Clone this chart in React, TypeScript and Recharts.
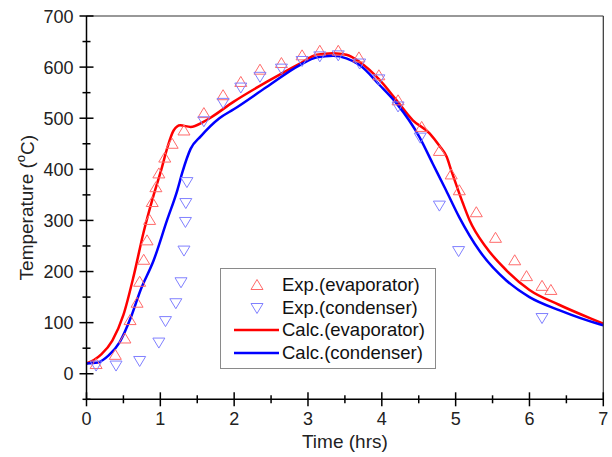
import React from "react"
import {
  ComposedChart,
  Line,
  Scatter,
  XAxis,
  YAxis,
} from "recharts"

const evapExpTime = [0.13, 0.39, 0.52, 0.59, 0.685, 0.72, 0.775, 0.82, 0.855, 0.89, 0.94, 0.98, 1.06, 1.16, 1.32, 1.59, 1.85, 2.09, 2.35, 2.64, 2.92, 3.16, 3.41, 3.69, 3.96, 4.22, 4.54, 4.78, 4.94, 5.05, 5.28, 5.54, 5.8, 5.96, 6.17, 6.29]
const evapExpTemp = [19, 37, 69, 105, 139, 180, 223, 261, 301, 336, 365, 392, 423, 450, 476, 510, 545, 571, 595, 608, 623, 632, 632, 619, 584, 535, 483, 436, 390, 359, 316, 266, 222, 191, 172, 164]

const condExpTime = [0.13, 0.4, 0.72, 0.98, 1.07, 1.21, 1.28, 1.32, 1.34, 1.345, 1.36, 1.59, 1.85, 2.09, 2.35, 2.64, 2.92, 3.16, 3.41, 3.7, 3.96, 4.22, 4.52, 4.78, 5.04, 6.17]
const condExpTemp = [16, 16, 25, 61, 103, 138, 179, 241, 297, 334, 375, 494, 530, 560, 581, 597, 612, 621, 623, 607, 576, 523, 462, 329, 240, 109]

// calculated curves
const evapCalcTime = [0, 0.1, 0.2, 0.35, 0.5, 0.64, 0.77, 0.91, 1.02, 1.09, 1.18, 1.27, 1.41, 1.585, 1.68, 1.99, 2.44, 2.89, 3.12, 3.34, 3.52, 3.7, 3.97, 4.2, 4.42, 4.65, 4.78, 4.88, 4.94, 5.01, 5.1, 5.19, 5.41, 5.69, 6.0, 6.4, 6.95, 7]
const evapCalcTemp = [20, 27, 38, 65, 115, 192, 275, 350, 403, 440, 476, 486, 483, 493, 501, 532, 571, 607, 624, 627, 624, 610, 575, 535, 496, 470, 446, 424, 398, 369, 333, 300, 248, 202, 164, 135, 101, 98]

const condCalcTime = [0, 0.15, 0.3, 0.45, 0.6, 0.73, 0.91, 1.09, 1.23, 1.3, 1.41, 1.55, 1.8, 2.0, 2.44, 2.89, 3.12, 3.34, 3.52, 3.7, 3.97, 4.2, 4.51, 4.69, 4.87, 5.05, 5.32, 5.69, 6.0, 6.41, 6.95, 7]
const condCalcTemp = [20, 22, 36, 62, 110, 163, 222, 300, 359, 395, 440, 465, 500, 518, 561, 604, 619, 622, 617, 604, 565, 529, 463, 411, 359, 306, 241, 182, 150, 124, 97, 95]

const xTicks = [0, 0.5, 1, 1.5, 2, 2.5, 3, 3.5, 4, 4.5, 5, 5.5, 6, 6.5, 7]
const yTicks = [-50, 0, 50, 100, 150, 200, 250, 300, 350, 400, 450, 500, 550, 600, 650, 700]

const zip = (t: number[], v: number[]) => t.map((x, i) => ({ t: x, v: v[i] }))

const evapExp = zip(evapExpTime, evapExpTemp)
const condExp = zip(condExpTime, condExpTemp)
const evapCalc = zip(evapCalcTime, evapCalcTemp)
const condCalc = zip(condCalcTime, condCalcTemp)

const FONT = "'Liberation Sans', Arial, sans-serif"
const RED = "#ff0000"
const BLUE = "#0000ff"
const RED_MK = "#ff6a6a"
const BLUE_MK = "#8080ff"

function UpTri({ cx, cy, color }: { cx: number; cy: number; color: string }) {
  return (
    <path
      d={`M${cx},${cy - 5.5} L${cx + 6},${cy + 4.5} L${cx - 6},${cy + 4.5} Z`}
      fill="none"
      stroke={color}
      strokeWidth={1}
    />
  )
}

function DownTri({ cx, cy, color }: { cx: number; cy: number; color: string }) {
  return (
    <path
      d={`M${cx - 6},${cy - 4.5} L${cx + 6},${cy - 4.5} L${cx},${cy + 5.5} Z`}
      fill="none"
      stroke={color}
      strokeWidth={1}
    />
  )
}

const isMajor = (v: number, step: number) => Math.abs(v / step - Math.round(v / step)) < 1e-6

function BottomTick({ x, y, payload }: any) {
  const major = isMajor(payload.value, 1)
  const len = major ? 7 : 4
  return (
    <g>
      <line x1={x} x2={x} y1={y - len} y2={y + len} stroke="#000" strokeWidth={1.5} />
      {major && (
        <text x={x} y={y + 26} textAnchor="middle" fontSize={18} fontFamily={FONT} fill="#222">
          {payload.value}
        </text>
      )}
    </g>
  )
}

function LeftTick({ x, y, payload }: any) {
  const major = isMajor(payload.value, 100)
  const len = major ? 7 : 4
  return (
    <g>
      <line x1={x - len} x2={x + len} y1={y} y2={y} stroke="#000" strokeWidth={1.5} />
      {major && payload.value >= 0 && (
        <text x={x - 13} y={y + 6.5} textAnchor="end" fontSize={18} fontFamily={FONT} fill="#222">
          {payload.value}
        </text>
      )}
    </g>
  )
}

function TopTick({ x, y, payload }: any) {
  const len = isMajor(payload.value, 1) ? 7 : 4
  return <line x1={x} x2={x} y1={y} y2={y + len} stroke="#333" strokeWidth={1.2} />
}

function RightTick({ x, y, payload }: any) {
  const len = isMajor(payload.value, 100) ? 7 : 4
  return <line x1={x - len} x2={x} y1={y} y2={y} stroke="#333" strokeWidth={1.2} />
}

function LegendBox() {
  const rows = [
    { label: "Exp.(evaporator)", kind: "up" },
    { label: "Exp.(condenser)", kind: "down" },
    { label: "Calc.(evaporator)", kind: "red" },
    { label: "Calc.(condenser)", kind: "blue" },
  ]
  return (
    <div
      style={{
        position: "absolute",
        left: 220,
        top: 268,
        border: "1px solid #8a8a8a",
        background: "#fff",
        width: 214,
        padding: "5px 0 4px 0",
        fontFamily: FONT,
        fontSize: 18.5,
        color: "#111",
      }}
    >
      {rows.map((r) => (
        <div key={r.label} style={{ display: "flex", alignItems: "center", height: 22.5 }}>
          <svg width={60} height={22} style={{ flex: "none" }}>
            {r.kind === "up" && <UpTri cx={36} cy={11} color={RED_MK} />}
            {r.kind === "down" && <DownTri cx={36} cy={11} color={BLUE_MK} />}
            {r.kind === "red" && <line x1={13} x2={58} y1={11} y2={11} stroke={RED} strokeWidth={2.5} />}
            {r.kind === "blue" && <line x1={13} x2={58} y1={11} y2={11} stroke={BLUE} strokeWidth={2.5} />}
          </svg>
          <span style={{ marginLeft: 1, whiteSpace: "nowrap" }}>{r.label}</span>
        </div>
      ))}
    </div>
  )
}

export default function App() {
  return (
    <div style={{ position: "absolute", left: 0, top: 0, width: 612, height: 457, background: "#fff" }}>
      <ComposedChart width={612} height={457} margin={{ top: 0, right: 0, bottom: 0, left: 0 }}>
        <XAxis
          xAxisId="b"
          dataKey="t"
          type="number"
          domain={[0, 7]}
          ticks={xTicks}
          orientation="bottom"
          height={57.7}
          tickSize={0}
          tickMargin={0}
          tickLine={false}
          axisLine={{ stroke: "#000", strokeWidth: 1.5 }}
          tick={<BottomTick />}
          interval={0}
          label={{
            content: ({ viewBox }: any) => (
              <text
                x={viewBox.x + viewBox.width / 2}
                y={viewBox.y + 49}
                textAnchor="middle"
                fontSize={19}
                fontFamily={FONT}
                fill="#222"
              >
                Time (hrs)
              </text>
            ),
          }}
        />
        <XAxis
          xAxisId="t"
          type="number"
          domain={[0, 7]}
          ticks={xTicks}
          orientation="top"
          height={16}
          tickSize={0}
          tickMargin={0}
          tickLine={false}
          axisLine={{ stroke: "#333", strokeWidth: 1.2 }}
          tick={<TopTick />}
          interval={0}
        />
        <YAxis
          yAxisId="l"
          dataKey="v"
          type="number"
          domain={[-50, 700]}
          ticks={yTicks}
          width={86.5}
          tickSize={0}
          tickMargin={0}
          tickLine={false}
          axisLine={{ stroke: "#000", strokeWidth: 1.5 }}
          tick={<LeftTick />}
          interval={0}
          label={{
            content: ({ viewBox }: any) => {
              const cx = viewBox.x + 27
              const cy = viewBox.y + viewBox.height / 2
              return (
                <text
                  x={cx}
                  y={cy}
                  transform={`rotate(-90 ${cx} ${cy})`}
                  textAnchor="middle"
                  dominantBaseline="central"
                  fontSize={19}
                  fontFamily={FONT}
                  fill="#222"
                >
                  Temperature (
                  <tspan fontSize={13} dy={-7}>o</tspan>
                  <tspan dy={7}>C)</tspan>
                </text>
              )
            },
          }}
        />
        <YAxis
          yAxisId="r"
          orientation="right"
          type="number"
          domain={[-50, 700]}
          ticks={yTicks}
          width={8.7}
          tickSize={0}
          tickMargin={0}
          tickLine={false}
          axisLine={{ stroke: "#333", strokeWidth: 1.2 }}
          tick={<RightTick />}
          interval={0}
        />
        <Line
          xAxisId="b"
          yAxisId="l"
          data={evapCalc}
          dataKey="v"
          type="monotone"
          stroke={RED}
          strokeWidth={2.5}
          dot={false}
          isAnimationActive={false}
        />
        <Line
          xAxisId="b"
          yAxisId="l"
          data={condCalc}
          dataKey="v"
          type="monotone"
          stroke={BLUE}
          strokeWidth={2.5}
          dot={false}
          isAnimationActive={false}
        />
        <Scatter
          xAxisId="b"
          yAxisId="l"
          data={evapExp}
          dataKey="v"
          shape={(p: any) => <UpTri cx={p.cx} cy={p.cy} color={RED_MK} />}
          isAnimationActive={false}
        />
        <Scatter
          xAxisId="b"
          yAxisId="l"
          data={condExp}
          dataKey="v"
          shape={(p: any) => <DownTri cx={p.cx} cy={p.cy} color={BLUE_MK} />}
          isAnimationActive={false}
        />
      </ComposedChart>
      <LegendBox />
    </div>
  )
}
